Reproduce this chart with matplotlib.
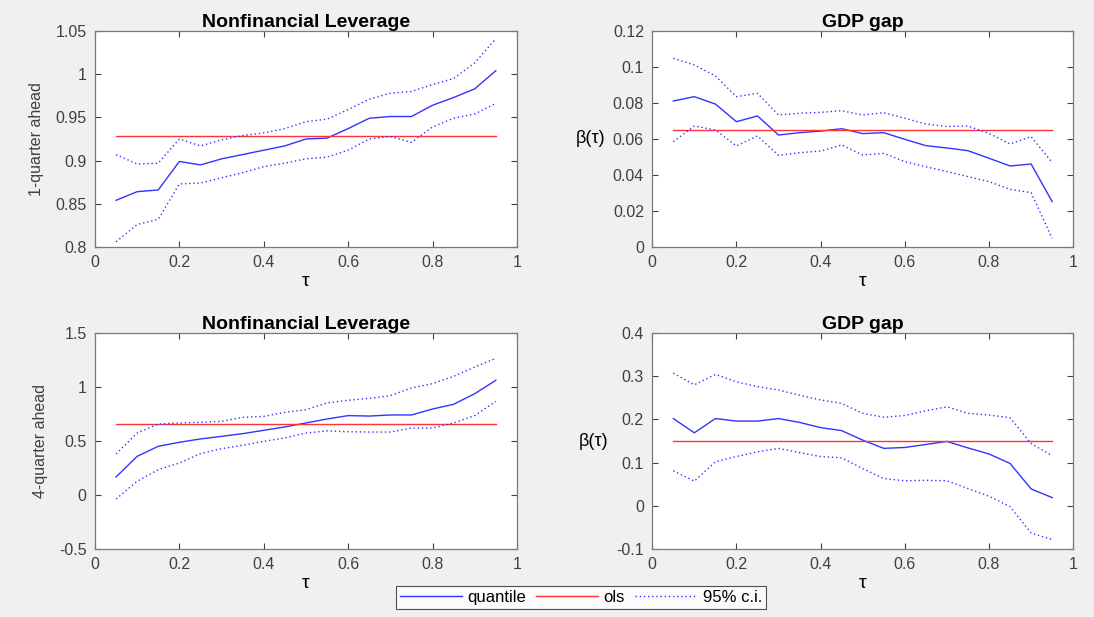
import numpy as np
import matplotlib
matplotlib.use("Agg")
import matplotlib.pyplot as plt
from matplotlib.ticker import FuncFormatter
from matplotlib.lines import Line2D

plt.rcParams['font.family'] = ['Liberation Sans', 'DejaVu Sans']

tau = [0.05, 0.10, 0.15, 0.20, 0.25, 0.30, 0.35, 0.40, 0.45, 0.50,
       0.55, 0.60, 0.65, 0.70, 0.75, 0.80, 0.85, 0.90, 0.95]

# 1-quarter ahead, nonfinancial leverage
lev1_q = [0.854, 0.864, 0.866, 0.899, 0.895, 0.902, 0.907, 0.912, 0.917, 0.925,
          0.926, 0.937, 0.949, 0.951, 0.951, 0.964, 0.973, 0.983, 1.004]
lev1_hi = [0.907, 0.896, 0.897, 0.925, 0.917, 0.924, 0.929, 0.932, 0.937, 0.945,
           0.948, 0.959, 0.971, 0.978, 0.980, 0.988, 0.995, 1.013, 1.041]
lev1_lo = [0.806, 0.826, 0.832, 0.873, 0.874, 0.880, 0.886, 0.893, 0.897, 0.902,
           0.904, 0.912, 0.925, 0.928, 0.921, 0.939, 0.949, 0.954, 0.966]
lev1_ols = 0.928

# 1-quarter ahead, GDP gap
gap1_q = [0.0811, 0.0835, 0.0794, 0.0696, 0.0728, 0.0622, 0.0635, 0.0644, 0.0657, 0.0630,
          0.0635, 0.0598, 0.0563, 0.0550, 0.0535, 0.0493, 0.0450, 0.0461, 0.0252]
gap1_hi = [0.1048, 0.1011, 0.0950, 0.0835, 0.0854, 0.0733, 0.0743, 0.0748, 0.0757, 0.0733,
           0.0746, 0.0715, 0.0683, 0.0669, 0.0672, 0.0631, 0.0572, 0.0613, 0.0469]
gap1_lo = [0.0585, 0.0672, 0.0650, 0.0561, 0.0617, 0.0509, 0.0524, 0.0533, 0.0567, 0.0511,
           0.0520, 0.0474, 0.0446, 0.0419, 0.0391, 0.0363, 0.0320, 0.0302, 0.0048]
gap1_ols = 0.065

# 4-quarter ahead, nonfinancial leverage
lev4_q = [0.167, 0.358, 0.451, 0.488, 0.519, 0.543, 0.568, 0.599, 0.630, 0.667,
          0.704, 0.735, 0.731, 0.741, 0.741, 0.796, 0.840, 0.938, 1.062]
lev4_hi = [0.380, 0.574, 0.657, 0.667, 0.673, 0.682, 0.719, 0.728, 0.765, 0.790,
           0.852, 0.877, 0.895, 0.920, 0.991, 1.031, 1.099, 1.185, 1.265]
lev4_lo = [-0.037, 0.127, 0.235, 0.296, 0.383, 0.429, 0.460, 0.497, 0.528, 0.574,
           0.593, 0.586, 0.583, 0.583, 0.620, 0.620, 0.667, 0.735, 0.867]
lev4_ols = 0.654

# 4-quarter ahead, GDP gap
gap4_q = [0.202, 0.169, 0.202, 0.196, 0.196, 0.202, 0.193, 0.181, 0.174, 0.152,
          0.133, 0.135, 0.142, 0.149, 0.134, 0.120, 0.098, 0.039, 0.019]
gap4_hi = [0.307, 0.280, 0.304, 0.287, 0.276, 0.268, 0.256, 0.245, 0.237, 0.214,
           0.205, 0.209, 0.220, 0.229, 0.214, 0.210, 0.204, 0.144, 0.116]
gap4_lo = [0.081, 0.057, 0.102, 0.114, 0.125, 0.133, 0.123, 0.114, 0.111, 0.086,
           0.063, 0.058, 0.059, 0.058, 0.040, 0.022, -0.002, -0.063, -0.078]
gap4_ols = 0.151

panels = [
    (lev1_q, lev1_hi, lev1_lo, lev1_ols, 'Nonfinancial Leverage', '1-quarter ahead', (0.8, 1.05), 0.05),
    (gap1_q, gap1_hi, gap1_lo, gap1_ols, 'GDP gap', 'β(τ)', (0, 0.12), 0.02),
    (lev4_q, lev4_hi, lev4_lo, lev4_ols, 'Nonfinancial Leverage', '4-quarter ahead', (-0.5, 1.5), 0.5),
    (gap4_q, gap4_hi, gap4_lo, gap4_ols, 'GDP gap', 'β(τ)', (-0.1, 0.4), 0.1),
]

positions = [
    [0.0868, 0.5997, 0.3857, 0.3501],
    [0.5962, 0.5997, 0.3848, 0.3501],
    [0.0868, 0.1102, 0.3857, 0.3501],
    [0.5962, 0.1102, 0.3848, 0.3501],
]

fig = plt.figure(figsize=(10.94, 6.17), dpi=100, facecolor='#f0f0f0')
fmt = FuncFormatter(lambda v, p: f'{v:g}' if abs(v) > 1e-12 else '0')
edge = '#262626'
blue = '#3333ff'
red = '#ff3333'
dots = (0, (1, 2))

for (q, hi, lo, ols, title, ylab, ylim, step), pos in zip(panels, positions):
    ax = fig.add_axes(pos)
    ax.plot(tau, q, color=blue, lw=1.0)
    ax.plot([tau[0], tau[-1]], [ols, ols], color=red, lw=1.0)
    ax.plot(tau, hi, color=blue, lw=1.0, ls=dots)
    ax.plot(tau, lo, color=blue, lw=1.0, ls=dots)
    ax.set_xlim(0, 1)
    ax.set_ylim(*ylim)
    ax.set_xticks(np.arange(0, 1.01, 0.2))
    ax.set_yticks(np.arange(ylim[0], ylim[1] + step / 2, step))
    ax.xaxis.set_major_formatter(fmt)
    ax.yaxis.set_major_formatter(fmt)
    ax.tick_params(direction='in', top=True, right=True, length=4, width=0.8,
                   labelsize=11.5, colors='#404040', pad=6)
    for s in ax.spines.values():
        s.set_color('#7a7a7a')
        s.set_linewidth(0.9)
    ax.set_title(title, fontsize=14, fontweight='bold', pad=3)
    ax.set_xlabel('τ', fontsize=14, labelpad=2)
    if ylab.startswith('β'):
        ax.set_ylabel(ylab, fontsize=13, rotation=0, labelpad=16, va='center')
    else:
        ax.set_ylabel(ylab, fontsize=11.5, color='#404040', labelpad=8)

handles = [
    Line2D([], [], color=blue, lw=1.0),
    Line2D([], [], color=red, lw=1.0),
    Line2D([], [], color=blue, lw=1.0, ls=dots),
]
leg = fig.legend(handles, ['quantile', 'ols', '95% c.i.'], loc='center',
                 bbox_to_anchor=(0.531, 0.032), ncol=3, fontsize=12,
                 frameon=True, fancybox=False, handlelength=3.7, columnspacing=0.6,
                 handletextpad=0.35, borderpad=0.25, borderaxespad=0)
leg.get_frame().set_edgecolor(edge)
leg.get_frame().set_linewidth(0.8)
leg.get_frame().set_facecolor('white')

fig.savefig('out.png', dpi=100, facecolor=fig.get_facecolor())
